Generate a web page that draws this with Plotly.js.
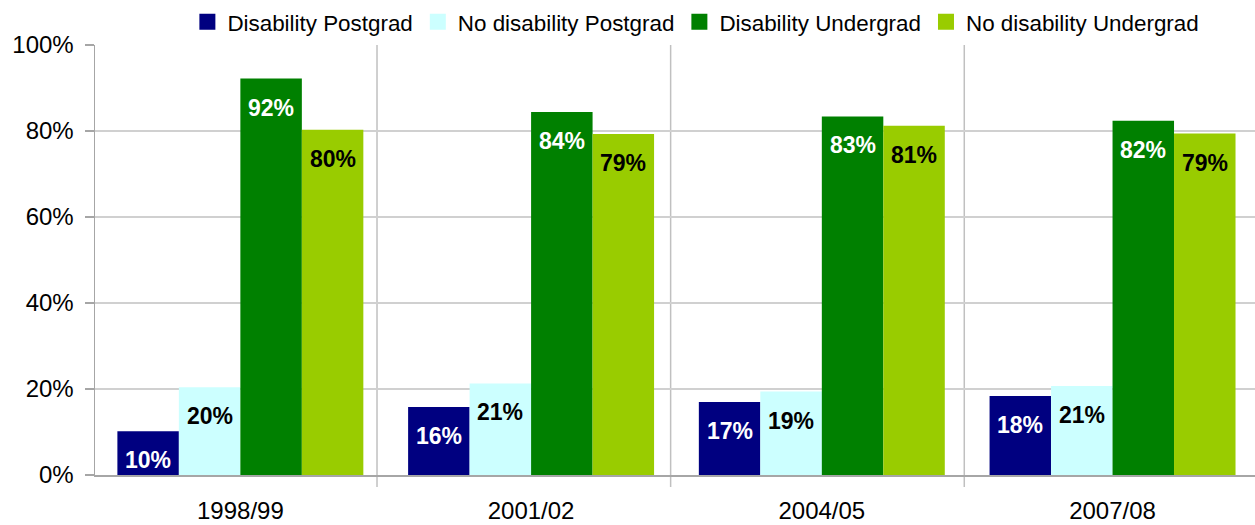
<!DOCTYPE html>
<html>
<head>
<meta charset="utf-8">
<script src="https://cdn.plot.ly/plotly-3.0.1.min.js"></script>
<style>html,body{margin:0;padding:0;background:#fff;}#chart{width:1255px;height:525px;}</style>
</head>
<body>
<div id="chart"></div>
<script>
const categories = ["1998/99", "2001/02", "2004/05", "2007/08"];
const seriesNames = ["Disability Postgrad", "No disability Postgrad", "Disability Undergrad", "No disability Undergrad"];
const disabilityPostgrad = [0.102, 0.158, 0.170, 0.184];
const noDisabilityPostgrad = [0.204, 0.213, 0.194, 0.207];
const disabilityUndergrad = [0.922, 0.844, 0.834, 0.824];
const noDisabilityUndergrad = [0.803, 0.793, 0.812, 0.794];
const yTickVals = [0, 0.2, 0.4, 0.6, 0.8, 1.0];

const seriesValues = [disabilityPostgrad, noDisabilityPostgrad, disabilityUndergrad, noDisabilityUndergrad];
const colors = ["#000080", "#CCFFFF", "#008000", "#99CC00"];
const labelColors = ["#FFFFFF", "#000000", "#FFFFFF", "#000000"];
const FONT = "Liberation Sans, Arial, sans-serif";
const bargap = 0.154;
const barW = (1 - bargap) / 4;

const traces = [];
seriesValues.forEach((vals, s) => {
  traces.push({
    type: "bar", x: categories, y: vals, name: seriesNames[s],
    marker: {color: colors[s], line: {width: 0}},
    showlegend: false, hoverinfo: "skip"
  });
});
// legend entries with larger square swatches
seriesNames.forEach((n, s) => {
  traces.push({
    type: "scatter", mode: "markers", x: [null], y: [null], name: n,
    marker: {symbol: "square", size: 16, color: colors[s]},
    showlegend: true, hoverinfo: "skip"
  });
});

const annotations = [];
seriesValues.forEach((vals, s) => {
  vals.forEach((v, i) => {
    annotations.push({
      xref: "x", yref: "y", x: i + (s - 1.5) * barW, y: v,
      text: Math.round(v * 100) + "%", showarrow: false,
      yanchor: "middle", yshift: -29,
      font: {family: FONT, size: 23, color: labelColors[s], weight: "bold"}
    });
  });
});

const sepX = [0.47, 1.48, 2.49];
const shapes = sepX.map(x => ({
  type: "line", xref: "x", yref: "paper", x0: x, x1: x, y0: -0.028, y1: 1,
  line: {color: "#C0C0C0", width: 1.5}, layer: "below"
}));

const layout = {
  width: 1255, height: 525,
  margin: {l: 95, r: 0, t: 45, b: 50},
  paper_bgcolor: "#FFFFFF", plot_bgcolor: "#FFFFFF",
  barmode: "group", bargap: bargap, bargroupgap: 0,
  font: {family: FONT, color: "#000000"},
  xaxis: {
    type: "category", range: [-0.5, 3.49], showgrid: false,
    showline: true, linecolor: "#A6A6A6", linewidth: 1.5,
    ticks: "", tickfont: {family: FONT, size: 24, color: "#000"},
    ticklabelstandoff: 14, zeroline: false
  },
  yaxis: {
    range: [0, 1], tickvals: yTickVals, tickformat: ".0%",
    showgrid: true, gridcolor: "#D0D0D0", gridwidth: 1.5,
    showline: true, linecolor: "#A6A6A6", linewidth: 1.5,
    ticks: "outside", ticklen: 9, tickcolor: "#A6A6A6", tickwidth: 1.5,
    tickfont: {family: FONT, size: 24, color: "#000"},
    ticklabelstandoff: 6, zeroline: false
  },
  legend: {
    orientation: "h", x: 0.518, xanchor: "center", y: 1.053, yanchor: "middle",
    font: {family: FONT, size: 22.4, color: "#000"}, itemclick: false,
    bgcolor: "rgba(0,0,0,0)"
  },
  annotations: annotations,
  shapes: shapes
};

Plotly.newPlot("chart", traces, layout, {displayModeBar: false, staticPlot: true});
</script>
</body>
</html>
